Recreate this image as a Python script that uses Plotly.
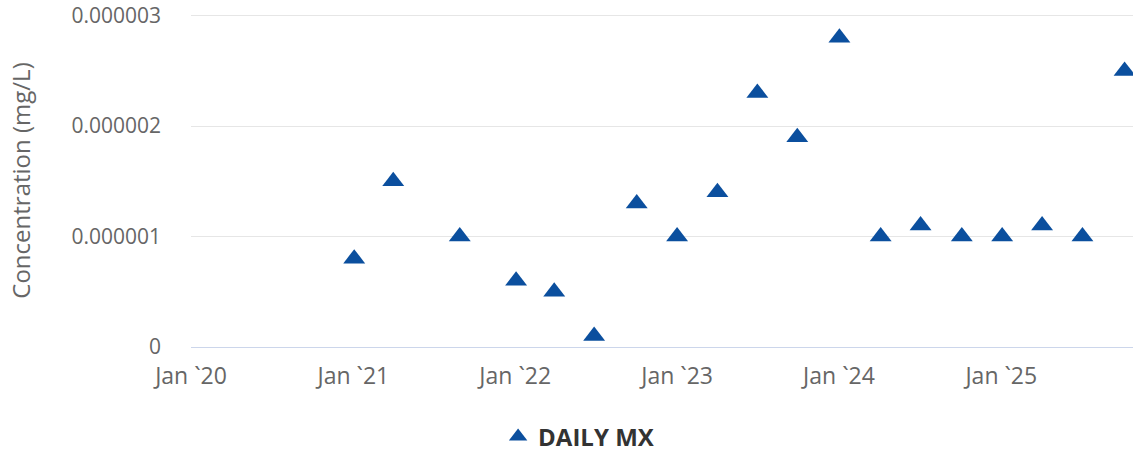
import plotly.graph_objects as go

dates = ["2021-01-03", "2021-04-01", "2021-08-29", "2022-01-03", "2022-03-30",
         "2022-06-28", "2022-10-02", "2023-01-01", "2023-04-02", "2023-07-01",
         "2023-09-29", "2024-01-02", "2024-04-04", "2024-07-03", "2024-10-04",
         "2025-01-03", "2025-04-03", "2025-07-03", "2025-10-06"]
values = [0.8e-6, 1.5e-6, 1.0e-6, 0.6e-6, 0.5e-6,
          0.1e-6, 1.3e-6, 1.0e-6, 1.4e-6, 2.3e-6,
          1.9e-6, 2.8e-6, 1.0e-6, 1.1e-6, 1.0e-6,
          1.0e-6, 1.1e-6, 1.0e-6, 2.5e-6]
tick_dates = ["2020-01-01", "2021-01-01", "2022-01-01", "2023-01-01", "2024-01-01", "2025-01-01"]
tick_labels = ["Jan `20", "Jan `21", "Jan `22", "Jan `23", "Jan `24", "Jan `25"]
y_ticks = [0, 1e-6, 2e-6, 3e-6]
y_labels = ["0", "0.000001", "0.000002", "0.000003"]

FONT = "Open Sans"

fig = go.Figure()
fig.add_trace(go.Scatter(
    x=dates, y=values, mode="markers", name="DAILY MX",
    marker=dict(symbol="triangle-up", size=19, color="#0b4f9e"),
))

fig.update_layout(
    width=1138, height=456,
    margin=dict(l=191, r=5, t=14, b=109, pad=0, autoexpand=False),
    plot_bgcolor="white", paper_bgcolor="white",
    font=dict(family=FONT, color="#666666", size=21),
    showlegend=True,
    legend=dict(orientation="h", x=0.412, xanchor="center",
                yref="container", y=0.042, yanchor="middle",
                font=dict(family=FONT, size=24, color="#333333", weight="bold"),
                bgcolor="rgba(0,0,0,0)"),
    xaxis=dict(type="date", range=["2020-01-01", "2025-10-25"],
               tickvals=tick_dates, ticktext=tick_labels, automargin=False,
               showgrid=False, zeroline=False, showline=True, linecolor="#ccd6eb",
               linewidth=1, ticks="", ticklabelstandoff=8,
               tickfont=dict(family=FONT, size=23, color="#666666")),
    yaxis=dict(range=[0, 3.015e-6], tickvals=y_ticks, ticktext=y_labels, automargin=False,
               showgrid=True, gridcolor="#e6e6e6", gridwidth=1, zeroline=False,
               showline=False, ticks="", ticklabelstandoff=29,
               ticklabeloverflow="allow",
               title=dict(text="Concentration (mg/L)",
                          font=dict(family=FONT, size=24, color="#666666"), standoff=34),
               tickfont=dict(family=FONT, size=21, color="#666666")),
)

fig.write_html("out.html")
